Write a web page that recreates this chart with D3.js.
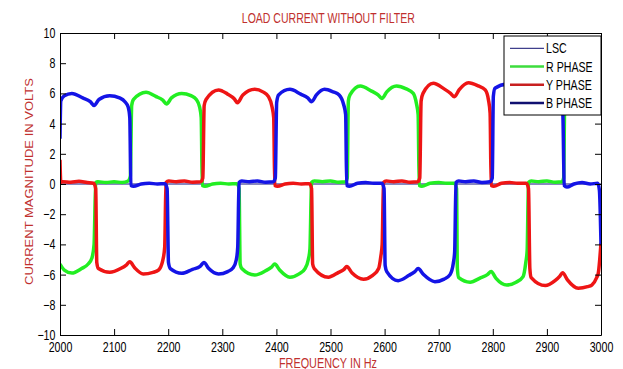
<!DOCTYPE html>
<html>
<head>
<meta charset="utf-8">
<script src="https://cdn.jsdelivr.net/npm/d3@7/dist/d3.min.js"></script>
<style>
body { margin: 0; background: #fff; }
text { font-family: "Liberation Sans", Arial, sans-serif; }
</style>
</head>
<body>
<script>
// tick values
var xTicks = [2000, 2100, 2200, 2300, 2400, 2500, 2600, 2700, 2800, 2900, 3000];
var yTicks = [-10, -8, -6, -4, -2, 0, 2, 4, 6, 8, 10];

var seriesNames = ['LSC', 'R PHASE', 'Y PHASE', 'B PHASE'];

// [frequency Hz, value]
var lscValues = [[2000, 0], [3000, 0]];

var rPhase = [
    [2000,-5.3],[2008,-5.7],[2022,-5.9],[2040,-5.6],[2052,-5.3],[2059,-4.9],[2063,-4.0],[2066,0.1],
    [2070,0.15],[2085,0.1],[2100,0.15],[2115,0.1],[2126,0.2],[2130,0.5],
    [2132.5,5.2],[2136,5.6],[2159,6.07],[2177,5.8],[2190,5.55],[2197,5.3],[2206,5.7],[2225,6.0],[2242,5.85],[2252,5.6],[2258,5.1],[2261,4.4],[2263,-0.1],
    [2268,-0.15],[2282,0.0],[2297,0.05],[2312,0.0],[2327,0.02],[2331,-0.3],
    [2333,-5.3],[2336,-5.6],[2360,-6.03],[2380,-5.75],[2391,-5.5],[2397,-5.3],[2406,-5.7],[2425,-6.17],[2442,-5.95],[2453,-5.6],[2459,-5.0],[2462,-4.3],[2465,0.1],
    [2470,0.2],[2485,0.15],[2500,0.2],[2515,0.12],[2528,0.15],[2531,0.4],
    [2533,5.5],[2536,5.9],[2555,6.49],[2576,6.15],[2588,5.9],[2595,5.67],[2604,6.1],[2622,6.49],[2640,6.3],[2653,6.0],[2659,5.3],[2662,4.6],[2664,-0.1],
    [2669,-0.15],[2684,0.05],[2700,0.1],[2715,0.05],[2729,0.05],[2733,-0.3],
    [2734.5,-5.6],[2737,-6.2],[2758,-6.5],[2778,-6.2],[2790,-6.0],[2797,-5.8],[2806,-6.25],[2826,-6.69],[2843,-6.5],[2856,-6.13],[2861,-5.2],[2863.5,-4.4],[2866,0.1],
    [2871,0.2],[2885,0.15],[2900,0.2],[2915,0.12],[2928,0.15],[2931,0.4],
    [2933,5.6],[2936,6.3],[2958,6.75],[2978,6.4],[2991,6.1],[2998,5.9],[3000,6.1]
];

var yPhase = [
    [2000,1.6],[2001.5,0.1],[2005,0.15],[2020,0.12],[2035,0.18],[2050,0.1],[2062,0.05],[2066,-0.3],
    [2068,-5.2],[2071,-5.6],[2092,-5.85],[2112,-5.6],[2123,-5.35],[2129,-5.15],[2138,-5.55],[2154,-5.96],[2172,-5.85],[2182,-5.7],[2190,-5.05],[2193.5,-4.2],[2196,0.1],
    [2201,0.2],[2215,0.15],[2230,0.2],[2245,0.12],[2260,0.15],[2264,0.4],
    [2266.5,5.2],[2270,5.6],[2293,6.23],[2310,5.95],[2322,5.65],[2328,5.38],[2338,5.9],[2360,6.27],[2375,6.1],[2385,5.8],[2392,5.1],[2395,4.4],[2397,-0.1],
    [2402,-0.15],[2416,0.0],[2431,0.05],[2446,0.0],[2461,0.02],[2465,-0.3],
    [2467,-5.3],[2470,-5.6],[2496,-6.17],[2515,-5.85],[2525,-5.65],[2530,-5.47],[2540,-5.9],[2561,-6.3],[2578,-6.05],[2589,-5.6],[2593,-4.8],[2595.5,-4.0],[2598,0.1],
    [2603,0.2],[2617,0.15],[2632,0.2],[2647,0.12],[2661,0.15],[2665,0.4],
    [2667.5,5.5],[2671,6.0],[2690,6.67],[2710,6.3],[2722,6.0],[2729,5.78],[2738,6.25],[2755,6.71],[2773,6.5],[2786,6.23],[2792,5.56],[2795,4.7],[2797,-0.1],
    [2802,-0.15],[2816,0.05],[2831,0.1],[2846,0.05],[2862,0.05],[2866,-0.3],
    [2868.5,-5.6],[2871,-6.2],[2897,-6.73],[2915,-6.4],[2924,-6.1],[2929,-5.87],[2938,-6.35],[2958,-6.9],[2975,-6.8],[2983,-6.69],[2992,-6.2],[2995,-5.9],[3000,-3.9]
];

var bPhase = [
    [2000,3.0],[2001.5,5.5],[2008,5.85],[2022,6.0],[2042,5.7],[2056,5.45],[2063,5.2],[2072,5.6],[2092,5.85],[2110,5.7],[2120,5.45],[2126,5.1],[2129,4.4],[2131,-0.1],
    [2136,-0.15],[2150,0.0],[2165,0.05],[2180,0.0],[2194,0.02],[2198,-0.3],
    [2200.5,-5.2],[2204,-5.6],[2225,-5.91],[2245,-5.65],[2259,-5.45],[2266,-5.2],[2275,-5.6],[2293,-5.96],[2310,-5.8],[2320,-5.55],[2326,-5.0],[2328.5,-4.2],[2331,0.1],
    [2336,0.2],[2350,0.15],[2365,0.2],[2380,0.12],[2394,0.15],[2398,0.4],
    [2400.5,5.4],[2404,5.9],[2425,6.27],[2445,5.95],[2458,5.7],[2465,5.45],[2474,5.9],[2489,6.27],[2505,6.1],[2516,5.9],[2524,5.3],[2528,4.6],[2530,-0.1],
    [2535,-0.15],[2550,0.05],[2565,0.1],[2580,0.05],[2595,0.05],[2599,-0.3],
    [2601,-5.4],[2604,-5.8],[2625,-6.4],[2645,-6.05],[2656,-5.8],[2662,-5.6],[2672,-6.0],[2693,-6.47],[2710,-6.3],[2721,-6.0],[2727,-5.25],[2729.5,-4.5],[2732,0.1],
    [2737,0.2],[2750,0.15],[2765,0.2],[2780,0.1],[2795,0.15],[2799,0.4],
    [2801,5.8],[2804,6.34],[2825,6.6],[2845,6.3],[2858,6.05],[2865,5.85],[2874,6.3],[2890,6.7],[2905,6.5],[2918,6.2],[2926,5.5],[2929.5,4.6],[2932,-0.1],
    [2937,-0.2],[2950,0.0],[2965,0.1],[2980,0.0],[2994,0.05],[2997,-0.4],[3000,-4.0]
];

var margin = { top: 33, left: 60, right: 22, bottom: 34 },
    width = 623 - margin.left - margin.right,
    height = 369 - margin.top - margin.bottom;

var lineColors = ['#101080', '#22ee22', '#ee1515', '#1414e6'];
var legendColors = ['#101070', '#3ddc3d', '#c82020', '#101070'];
var labelRed = '#c0302e';
var squeeze = 'scale(0.76,1)';

var svg = d3.select('body')
    .append('svg')
    .attr('width', 623)
    .attr('height', 369);

var g = svg.append('g')
    .attr('transform', 'translate(' + margin.left + ',' + margin.top + ')');

var x = d3.scaleLinear().domain([2000, 3000]).range([0, width]);
var y = d3.scaleLinear().domain([-10, 10]).range([height, 0]);

g.append('rect')
    .attr('width', width)
    .attr('height', height)
    .attr('fill', '#fff');

g.append('clipPath')
    .attr('id', 'plotclip')
    .append('rect')
    .attr('width', width)
    .attr('height', height);

var line = d3.line()
    .x(function(d) { return x(d[0]); })
    .y(function(d) { return y(d[1]); })
    .curve(d3.curveMonotoneX);

var allSeries = [lscValues, rPhase, yPhase, bPhase];

g.append('g')
    .attr('clip-path', 'url(#plotclip)')
    .selectAll('path')
    .data(allSeries)
    .enter()
    .append('path')
    .attr('d', line)
    .attr('fill', 'none')
    .attr('stroke', function(d, i) { return lineColors[i]; })
    .attr('stroke-width', function(d, i) { return i === 0 ? 1 : 3.5; })
    .attr('stroke-linejoin', 'round');

// axes, ticks point inward like the matlab box
var bottomAxis = g.append('g')
    .attr('transform', 'translate(0,' + height + ')')
    .call(d3.axisBottom(x).tickValues(xTicks).tickSize(-6).tickSizeOuter(0).tickPadding(7).tickFormat(d3.format('d')));

var leftAxis = g.append('g')
    .call(d3.axisLeft(y).tickValues(yTicks).tickSize(-6).tickSizeOuter(0).tickPadding(6).tickFormat(d3.format('d')));

g.append('g')
    .call(d3.axisTop(x).tickValues(xTicks).tickSize(-6).tickSizeOuter(0).tickFormat(''));

g.append('g')
    .attr('transform', 'translate(' + width + ',0)')
    .call(d3.axisRight(y).tickValues(yTicks).tickSize(-6).tickSizeOuter(0).tickFormat(''));

g.selectAll('.domain').attr('stroke', '#000');
g.selectAll('.tick line').attr('stroke', '#000');

[bottomAxis, leftAxis].forEach(function(ax) {
    ax.selectAll('text')
        .attr('font-size', 14)
        .attr('font-family', '"Liberation Sans", Arial, sans-serif')
        .attr('fill', '#000')
        .attr('transform', squeeze);
});

// legend
var legend = g.append('g')
    .attr('transform', 'translate(' + (504 - margin.left) + ',' + (36 - margin.top) + ')');

legend.append('rect')
    .attr('width', 97)
    .attr('height', 79)
    .attr('fill', '#fff')
    .attr('stroke', '#000')
    .attr('stroke-width', 1);

var item = legend.selectAll('.item')
    .data(seriesNames)
    .enter()
    .append('g')
    .attr('class', 'item')
    .attr('transform', function(d, i) { return 'translate(0,' + (12.3 + i * 18.2) + ')'; });

item.append('line')
    .attr('x1', 6)
    .attr('x2', 40)
    .attr('stroke', function(d, i) { return legendColors[i]; })
    .attr('stroke-width', function(d, i) { return i === 0 ? 1 : 2.5; });

item.append('text')
    .attr('transform', 'translate(42,5) ' + squeeze)
    .attr('font-size', 14)
    .attr('fill', '#000')
    .text(function(d) { return d; });

// titles
svg.append('text')
    .attr('x', 328.3)
    .attr('y', 23.3)
    .attr('text-anchor', 'middle')
    .attr('font-size', 14)
    .attr('textLength', 173)
    .attr('lengthAdjust', 'spacingAndGlyphs')
    .attr('fill', labelRed)
    .text('LOAD CURRENT WITHOUT FILTER');

svg.append('text')
    .attr('x', 328)
    .attr('y', 367.5)
    .attr('text-anchor', 'middle')
    .attr('font-size', 14)
    .attr('textLength', 98)
    .attr('lengthAdjust', 'spacingAndGlyphs')
    .attr('fill', labelRed)
    .text('FREQUENCY IN Hz');

svg.append('text')
    .attr('transform', 'translate(33.3,181.5) rotate(-90)')
    .attr('text-anchor', 'middle')
    .attr('font-size', 11.6)
    .attr('textLength', 207)
    .attr('lengthAdjust', 'spacingAndGlyphs')
    .attr('fill', labelRed)
    .text('CURRENT MAGNITUDE IN VOLTS');
</script>
</body>
</html>
